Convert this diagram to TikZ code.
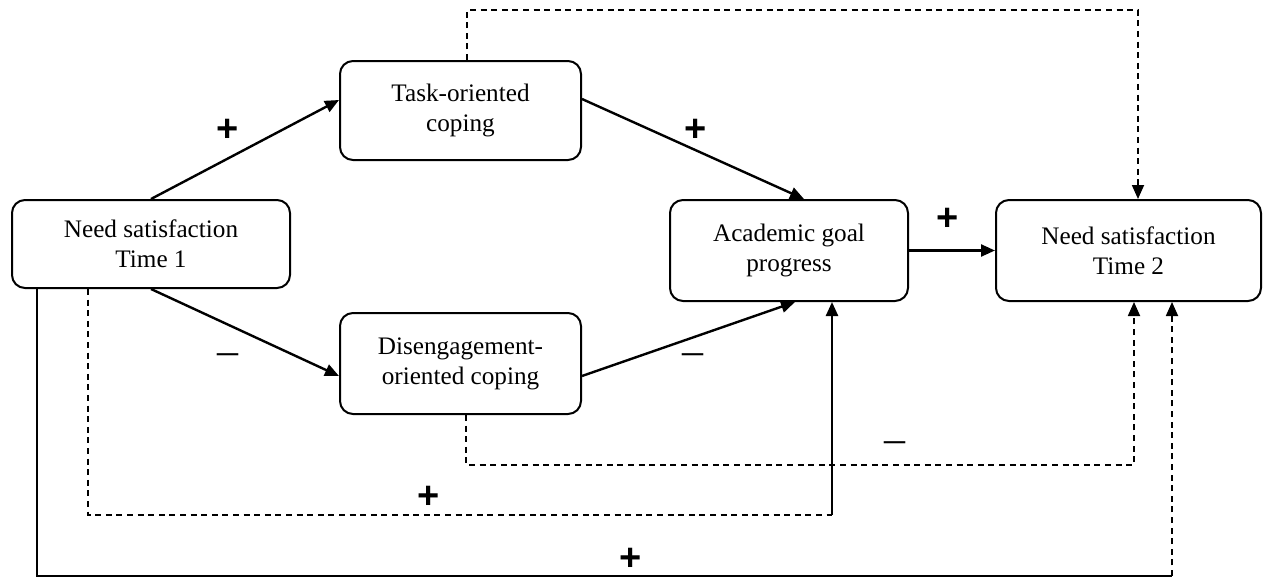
\documentclass[tikz,border=0pt]{standalone}
\usepackage{fontspec}
\setmainfont{Liberation Serif}
\newfontfamily\signfont{Liberation Sans}
\usetikzlibrary{arrows.meta}

\tikzstyle{format}=[rectangle,draw,rounded corners=6.5pt,line width=1pt,align=center,inner sep=0pt,font=\fontsize{12.6pt}{15pt}\selectfont]
\tikzstyle{plus}=[inner sep=0pt,font=\signfont\bfseries\fontsize{19pt}{19pt}\selectfont]
\tikzstyle{minus}=[inner sep=0pt,font=\fontsize{21pt}{21pt}\selectfont]
\tikzstyle{dash_line}=[line width=0.9pt,dash pattern=on 3pt off 2.3pt]

\begin{document}
\begin{tikzpicture}[x=0.5pt,y=-0.5pt,line width=1.2pt,>={Triangle[length=7pt,width=6pt]}]
		\useasboundingbox (0,0) rectangle (1266,578);
		\node[format,minimum width=139pt,minimum height=44pt] (need_t1) at (151,244) {Need satisfaction\\Time 1};
		\node[format,minimum width=120.5pt,minimum height=49.5pt] (task) at (460.5,110.5) {Task-oriented\\coping};
		\node[format,minimum width=120.5pt,minimum height=50.5pt] (disengage) at (460.5,363.5) {Disengagement-\\oriented coping};
		\node[format,minimum width=119pt,minimum height=50.5pt] (goal) at (789,250.5) {Academic goal\\progress};
		\node[format,minimum width=132.5pt,minimum height=50.5pt] (need_t2) at (1128.5,250.5) {Need satisfaction\\Time 2};
		\coordinate (c_goal) at (832,515);
		\coordinate (c_t2) at (1172,576);
		\draw[->] (need_t1.north)--([yshift=5.25pt]task.west);
		\draw[->] (need_t1.south)--([yshift=-6.25pt]disengage.west);
		\draw[->] ([yshift=5.75pt]task.east)--([xshift=7.5pt]goal.north);
		\draw[->] ([yshift=-6.25pt]disengage.east)--([xshift=3pt]goal.south);
		\draw[->] (goal.east)--(need_t2.west);
		\draw[dash_line,->] ([xshift=3.25pt]task.north)--++(0,-50)-|([xshift=4.75pt]need_t2.north);
		\draw[dash_line,->] ([xshift=2.75pt]disengage.south)--++(0,50)-|([xshift=2.75pt]need_t2.south);
		\draw[dash_line] ([xshift=-31.5pt]need_t1.south)|-(c_goal);
		\draw[->] (c_goal)--(c_goal |- goal.south);
		\draw ([xshift=-57pt]need_t1.south)|-(c_t2);
		\draw[dash_line,->] (c_t2)--(c_t2 |- need_t2.south);
		\node[plus] (p_task) at (228,130) {+};
		\node[minus] (m_dis) at (228,359) {–};
		\node[plus] (p_goal) at (696,130) {+};
		\node[minus] (m_goal) at (693,359) {–};
		\node[plus] (p_t2) at (948,219) {+};
		\node[minus] (m_t2) at (895,447) {–};
		\node[plus] (p_low) at (429,497) {+};
		\node[plus] (p_bottom) at (631,559) {+};
	\end{tikzpicture}
\end{document}
